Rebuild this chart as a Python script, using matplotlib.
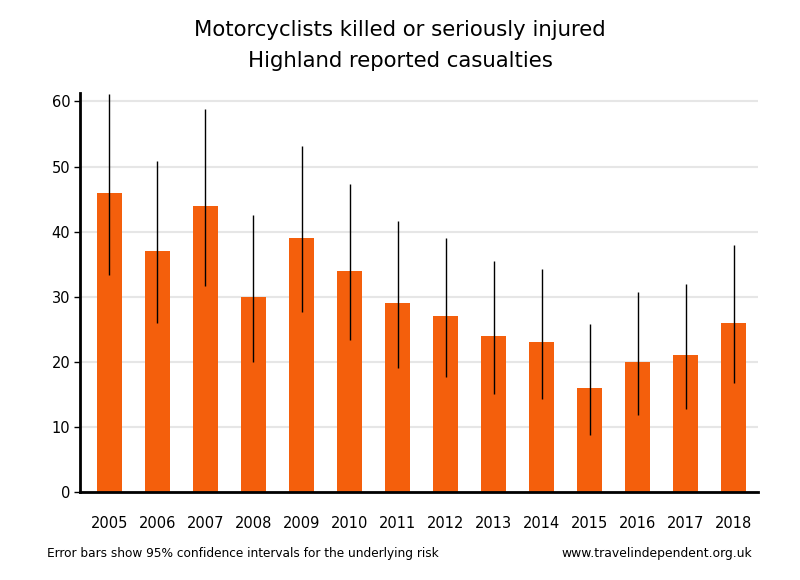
import numpy as np
import matplotlib
matplotlib.use('Agg')
import matplotlib.pyplot as plt

years = ['2005', '2006', '2007', '2008', '2009', '2010', '2011',
         '2012', '2013', '2014', '2015', '2016', '2017', '2018']
casualties = [46, 37, 44, 30, 39, 34, 29, 27, 24, 23, 16, 20, 21, 26]
ci_low = [33.4, 25.9, 31.7, 20.0, 27.6, 23.3, 19.1, 17.6, 15.1, 14.3, 8.8, 11.9, 12.8, 16.8]
ci_high = [61.1, 50.9, 58.9, 42.6, 53.2, 47.3, 41.6, 39.0, 35.5, 34.3, 25.8, 30.7, 32.0, 38.0]

x = np.arange(len(years))
vals = np.array(casualties)
yerr = [vals - np.array(ci_low), np.array(ci_high) - vals]

fig = plt.figure(figsize=(8, 5.8), dpi=100)
ax = fig.add_axes([0.1, 0.1517, 0.8475, 0.688])

ax.bar(x, vals, width=0.52, color='#f45f0c', zorder=2)
ax.errorbar(x, vals, yerr=yerr, fmt='none', ecolor='black', elinewidth=1, capsize=0, zorder=3)

ax.set_xlim(-0.61, 13.5)
ax.set_ylim(0, 61.3)
ax.set_yticks(range(0, 61, 10))
ax.set_xticks(x)
ax.set_xticklabels(years)
ax.yaxis.grid(True, color='#e6e6e6', linewidth=1.5, zorder=0)
ax.set_axisbelow(True)

for s in ['top', 'right']:
    ax.spines[s].set_visible(False)
for s in ['left', 'bottom']:
    ax.spines[s].set_linewidth(2)
ax.tick_params(axis='x', length=0, pad=17, labelsize=10.5)
ax.tick_params(axis='y', length=4, width=1, pad=3, labelsize=10.5)

fig.text(0.5, 0.921, 'Motorcyclists killed or seriously injured\nHighland reported casualties',
         ha='center', va='center', fontsize=15.3, linespacing=1.7)
fig.text(0.059, 0.045, 'Error bars show 95% confidence intervals for the underlying risk',
         ha='left', va='center', fontsize=8.7)
fig.text(0.94, 0.045, 'www.travelindependent.org.uk', ha='right', va='center', fontsize=8.9)

fig.savefig('out.png', dpi=100)
